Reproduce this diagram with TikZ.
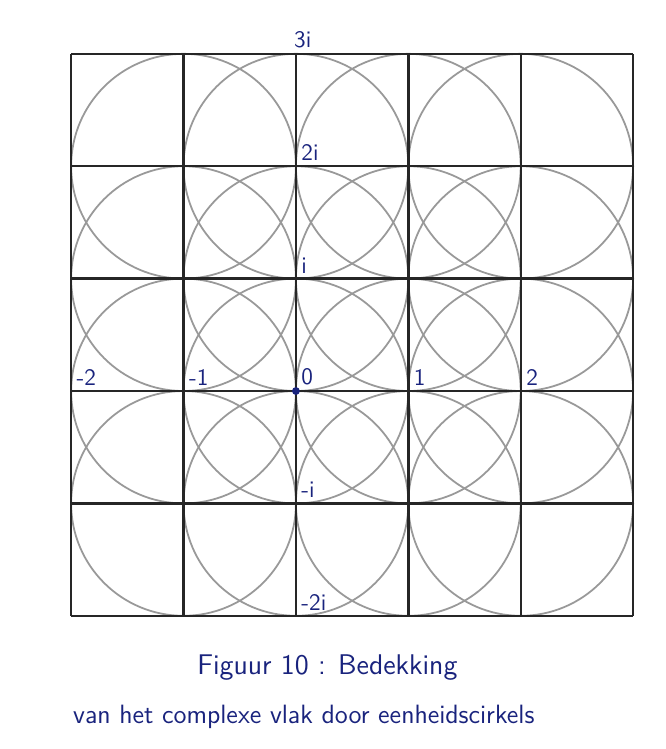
\documentclass[tikz,border=0pt]{standalone}
\definecolor{inkt}{RGB}{25,35,125}
\begin{document}
\begin{tikzpicture}[x=2cm,y=2cm,line width=0.6pt,font=\sffamily,
  rooster/.style={line width=1.2pt,black!85},
  cirkel/.style={line width=0.9pt,black!40},
  lbl/.style={text=inkt,inner sep=2.5pt,font=\sffamily\large}]
  \useasboundingbox (-2.633,-3.185) rectangle (3.292,3.479);

  % eenheidscirkels
  \foreach \a in {-1,0,1,2}
    \foreach \b in {-1,0,1,2}
      \draw[cirkel] (\a,\b) circle (1);

  % rooster
  \draw[rooster,step=2cm] (-2,-2) grid (3,3);

  % reele as
  \node[lbl,above right] (min2) at (-2,0) {-2};
  \node[lbl,above right] (min1) at (-1,0) {-1};
  \node[lbl,above right] (nul) at (0,0) {0};
  \node[lbl,above right] (een) at (1,0) {1};
  \node[lbl,above right] (twee) at (2,0) {2};

  % imaginaire as
  \node[lbl,above] (drie_i) at (0.06,3) {3i};
  \node[lbl,above right] (twee_i) at (0,2) {2i};
  \node[lbl,above right] (een_i) at (0,1) {i};
  \node[lbl,above right] (min_i) at (0,-1) {-i};
  \node[lbl,above right] (min2_i) at (0,-2) {-2i};

  \fill[inkt] (0,0) circle (0.035);

  % onderschrift
  \node[text=inkt] (titel) at (0.28,-2.46) {\Large Figuur 10 : Bedekking};
  \node[text=inkt] (onder) at (0.07,-2.90) {\fontsize{13.4}{16}\selectfont van het complexe vlak door eenheidscirkels};
\end{tikzpicture}
\end{document}
